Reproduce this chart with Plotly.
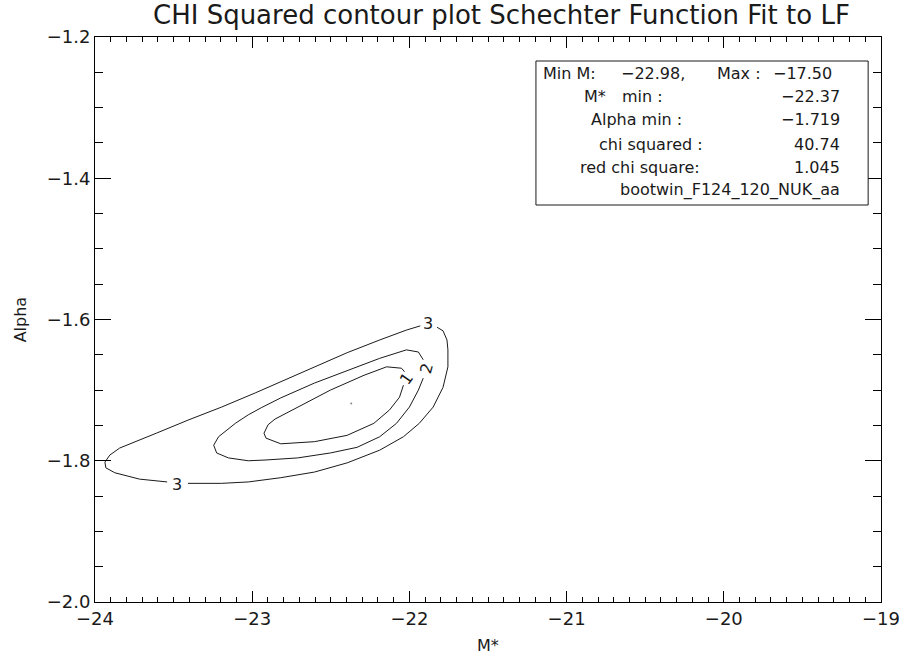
import plotly.graph_objects as go

# Delta chi-squared contours (M*, alpha).
# None breaks the line where a contour level label sits.
c3_mstar = [-23.541, -23.717, -23.874, -23.931, -23.937, -23.906, -23.843, -23.717,
            -23.610, -23.403, -23.195, -22.981, -22.774, -22.604, -22.396, -22.189,
            -22.019, -21.931, None,
            -21.824, -21.786, -21.761, -21.755, -21.755, -21.786, -21.849, -21.937,
            -22.038, -22.189, -22.396, -22.604, -22.818, -23.025, -23.195, -23.409]
c3_alpha = [-1.830, -1.826, -1.817, -1.810, -1.802, -1.792, -1.782, -1.771,
            -1.761, -1.742, -1.724, -1.704, -1.684, -1.667, -1.647, -1.629,
            -1.615, -1.609, None,
            -1.611, -1.616, -1.629, -1.643, -1.667, -1.696, -1.724, -1.747,
            -1.766, -1.785, -1.803, -1.816, -1.824, -1.830, -1.832, -1.832]

c2_mstar = [-21.912, -21.943, -22.000, -22.082, -22.189, -22.333, -22.503, -22.711,
            -22.918, -23.025, -23.151, -23.226, -23.245, -23.214, -23.107, -23.025,
            -22.943, -22.818, -22.604, -22.396, -22.189, -22.019, -21.943, -21.912]
c2_alpha = [-1.683, -1.700, -1.724, -1.747, -1.766, -1.781, -1.789, -1.796,
            -1.799, -1.800, -1.796, -1.789, -1.778, -1.766, -1.747, -1.735,
            -1.725, -1.711, -1.690, -1.672, -1.655, -1.643, -1.646, -1.657]

c1_mstar = [-22.038, -22.063, -22.126, -22.226, -22.396, -22.604, -22.818, -22.912,
            -22.925, -22.899, -22.855, -22.711, -22.503, -22.289, -22.145, -22.050,
            -22.031]
c1_alpha = [-1.693, -1.710, -1.728, -1.747, -1.764, -1.773, -1.776, -1.768,
            -1.761, -1.749, -1.741, -1.724, -1.700, -1.679, -1.667, -1.669,
            -1.674]

# contour level labels: (level text, M*, alpha, text angle)
level_labels = [("3", -21.881, -1.605, 0),
                ("3", -23.478, -1.833, 0),
                ("2", -21.893, -1.669, -75),
                ("1", -22.019, -1.683, -55)]

# best-fit summary
min_m, max_m = -22.98, -17.50
mstar_min = -22.37
alpha_min = -1.719
chi_sq = 40.74
red_chi_sq = 1.045
run_name = "bootwin_F124_120_NUK_aa"

FONT = "DejaVu Sans"
INK = "#1a1a1a"

# plot-area geometry in pixels, used to place the text block
L, R, T, B = 95, 890, 37, 602
W, H = 912, 661


def px(x):
    return (x - L) / (R - L)


def py(y):
    return 1 - (y - T) / (B - T)


fig = go.Figure()
for xs, ys in [(c3_mstar, c3_alpha), (c2_mstar, c2_alpha), (c1_mstar, c1_alpha)]:
    fig.add_trace(go.Scatter(x=xs, y=ys, mode="lines", connectgaps=False,
                             line=dict(color=INK, width=1), hoverinfo="skip",
                             showlegend=False))

# best-fit point
fig.add_trace(go.Scatter(x=[mstar_min], y=[alpha_min], mode="markers",
                         marker=dict(size=2, color="#888888"), showlegend=False,
                         hoverinfo="skip"))

ann = []
for txt, xm, ya, ang in level_labels:
    ann.append(dict(x=xm, y=ya, xref="x", yref="y", text=txt, showarrow=False,
                    textangle=ang, xanchor="center", yanchor="middle",
                    font=dict(family=FONT, size=16, color=INK)))


def text(x, y, s, anchor="left", size=16, angle=0):
    ann.append(dict(x=px(x), y=py(y), xref="paper", yref="paper", text=s,
                    showarrow=False, xanchor=anchor, yanchor="middle",
                    textangle=angle, font=dict(family=FONT, size=size, color=INK)))


def num(v, fmt):
    return format(v, fmt).replace("-", "\u2212")


vx = 851
text(546, 73, "Min M:")
text(625, 73, num(min_m, ".2f") + ",")
text(722, 73, "Max :")
text(842, 73, num(max_m, ".2f"), "right")
text(588, 97, "M*")
text(626, 97, "min :")
text(vx, 97, num(mstar_min, ".2f"), "right")
text(595, 120, "Alpha min :")
text(vx, 120, num(alpha_min, ".3f"), "right")
text(603, 144, "chi squared :")
text(vx, 144, num(chi_sq, ".2f"), "right")
text(584, 167, "red chi square:")
text(vx, 167, num(red_chi_sq, ".3f"), "right")
text(vx, 190, run_name, "right")

# titles
text(506, 15, "CHI Squared contour plot Schechter Function Fit to LF", "center", size=26)
text((L + R) / 2, 645, "M*", "center")
text(20, (T + B) / 2, "Alpha", "center", angle=-90)

axis_common = dict(showline=True, linecolor="black", linewidth=1, mirror="allticks",
                   ticks="inside", tickcolor="black", tickwidth=1, showgrid=False,
                   zeroline=False, tickfont=dict(family=FONT, size=18, color=INK))

fig.update_layout(
    width=W, height=H,
    margin=dict(l=L, r=W - R, t=T, b=H - B),
    paper_bgcolor="white", plot_bgcolor="white",
    showlegend=False,
    xaxis=dict(range=[-24, -19], tick0=-24, dtick=1, ticklen=11,
               minor=dict(dtick=0.1, ticklen=5, ticks="inside", tickcolor="black"),
               **axis_common),
    yaxis=dict(range=[-2.0, -1.2], tick0=-2.0, dtick=0.2, tickformat=".1f", ticklen=16,
               minor=dict(dtick=0.05, ticklen=8, ticks="inside", tickcolor="black"),
               **axis_common),
    annotations=ann,
    shapes=[dict(type="rect", xref="paper", yref="paper",
                 x0=px(541), x1=px(877), y0=py(205), y1=py(61),
                 line=dict(color=INK, width=1), fillcolor="white")],
)

fig.write_html("out.html")
